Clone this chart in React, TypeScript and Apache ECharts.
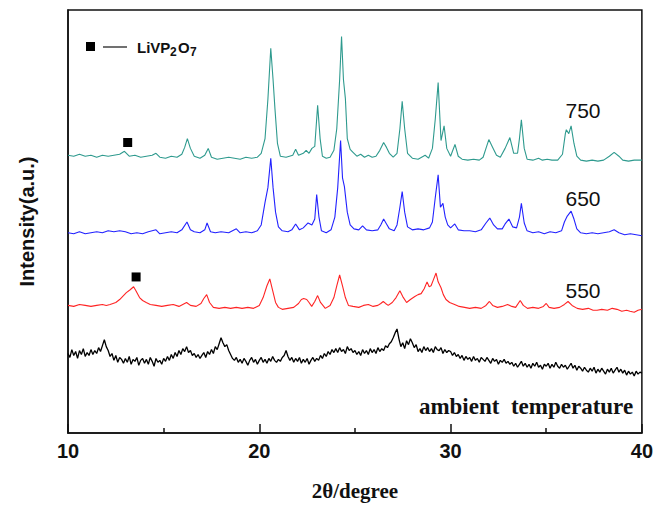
import React, { useEffect, useRef } from "react";
import * as echarts from "echarts";

// 2θ range and tick values
const xMin = 10;
const xMax = 40;
const xInterval = 10;

// Curve labels
const label750 = "750";
const label650 = "650";
const label550 = "550";
const labelAmbient = "ambient  temperature";

// Offset intensity (a.u.), [2θ, intensity]
const s750: [number, number][] = [
  [10.0, 283], [10.3, 282], [10.6, 284], [10.9, 282], [11.2, 283], [11.5, 281], [11.8, 283],
  [12.1, 282], [12.4, 283], [12.7, 284], [12.95, 287], [13.2, 282], [13.5, 283], [13.8, 281],
  [14.1, 282], [14.4, 283], [14.6, 285], [14.8, 281], [15.1, 280], [15.4, 282], [15.7, 281],
  [15.95, 284], [16.1, 291], [16.24, 300], [16.4, 290], [16.6, 282], [16.9, 280], [17.15, 283],
  [17.33, 290], [17.5, 281], [17.8, 279], [18.1, 280], [18.4, 281], [18.7, 280], [19.0, 279],
  [19.3, 281], [19.6, 280], [19.9, 281], [20.1, 285], [20.3, 300], [20.45, 340], [20.6, 392],
  [20.72, 360], [20.82, 330], [20.95, 295], [21.1, 282], [21.4, 281], [21.75, 283], [21.9, 289],
  [22.05, 283], [22.3, 285], [22.45, 288], [22.6, 285], [22.75, 290], [22.9, 292], [23.05, 334],
  [23.18, 300], [23.3, 282], [23.5, 280], [23.7, 281], [23.9, 288], [24.05, 310], [24.2, 360],
  [24.3, 404], [24.4, 360], [24.5, 341], [24.6, 300], [24.75, 289], [24.9, 286], [25.1, 282],
  [25.3, 284], [25.5, 281], [25.7, 283], [25.9, 281], [26.1, 282], [26.3, 288], [26.5, 296],
  [26.65, 291], [26.8, 285], [27.0, 281], [27.2, 285], [27.35, 310], [27.47, 338], [27.6, 310],
  [27.75, 285], [28.0, 280], [28.3, 279], [28.67, 283], [28.85, 280], [29.05, 290], [29.2, 320],
  [29.35, 357], [29.5, 298], [29.66, 313], [29.8, 290], [30.0, 282], [30.23, 294], [30.4, 282],
  [30.6, 279], [30.9, 278], [31.2, 279], [31.5, 278], [31.7, 281], [31.85, 290], [32.0, 299],
  [32.2, 291], [32.4, 283], [32.6, 281], [32.85, 290], [33.1, 301], [33.3, 285], [33.5, 285],
  [33.6, 300], [33.7, 319], [33.85, 290], [34.0, 279], [34.3, 278], [34.6, 280], [34.8, 278],
  [35.05, 279], [35.3, 278], [35.6, 278], [35.85, 284], [36.0, 305], [36.05, 309], [36.18, 305],
  [36.3, 313], [36.45, 295], [36.6, 282], [36.8, 278], [37.1, 277], [37.4, 278], [37.7, 277],
  [38.0, 278], [38.3, 282], [38.55, 286], [38.8, 282], [39.0, 278], [39.3, 277], [39.6, 278],
  [40.0, 278],
];

const s650: [number, number][] = [
  [10.0, 204], [10.3, 203], [10.6, 205], [10.9, 203], [11.2, 204], [11.5, 205], [11.8, 204],
  [12.1, 206], [12.4, 205], [12.7, 206], [13.0, 205], [13.3, 203], [13.6, 204], [13.9, 203],
  [14.2, 205], [14.6, 207], [14.8, 203], [15.1, 204], [15.4, 205], [15.7, 204], [15.95, 207],
  [16.22, 215], [16.4, 207], [16.6, 205], [16.9, 204], [17.15, 207], [17.27, 214], [17.45, 205],
  [17.7, 204], [18.0, 205], [18.4, 204], [18.8, 208], [19.0, 204], [19.3, 205], [19.6, 204],
  [19.9, 206], [20.1, 212], [20.3, 235], [20.45, 250], [20.6, 280], [20.72, 250], [20.85, 225],
  [21.0, 210], [21.2, 206], [21.5, 205], [21.7, 207], [21.9, 213], [22.1, 207], [22.3, 209],
  [22.55, 214], [22.75, 212], [22.9, 218], [23.0, 243], [23.12, 220], [23.25, 206], [23.5, 204],
  [23.75, 207], [23.95, 220], [24.1, 250], [24.25, 298], [24.35, 260], [24.45, 251], [24.6, 225],
  [24.75, 212], [24.95, 208], [25.2, 207], [25.4, 211], [25.6, 207], [25.9, 206], [26.2, 207],
  [26.35, 212], [26.5, 218], [26.65, 213], [26.8, 208], [27.05, 206], [27.2, 212], [27.35, 230],
  [27.47, 246], [27.6, 225], [27.75, 210], [28.0, 207], [28.3, 208], [28.6, 207], [28.9, 209],
  [29.05, 215], [29.2, 240], [29.35, 263], [29.47, 230], [29.6, 234], [29.72, 220], [29.85, 212],
  [30.0, 209], [30.22, 213], [30.4, 207], [30.7, 206], [31.0, 206], [31.3, 205], [31.6, 207],
  [31.85, 214], [32.05, 219], [32.25, 212], [32.45, 208], [32.7, 208], [32.85, 213], [33.05, 218],
  [33.25, 210], [33.45, 209], [33.6, 220], [33.7, 234], [33.85, 214], [34.0, 206], [34.3, 204],
  [34.6, 205], [34.9, 203], [35.2, 205], [35.5, 204], [35.8, 206], [35.95, 215], [36.1, 221],
  [36.3, 226], [36.45, 218], [36.6, 208], [36.8, 204], [37.1, 203], [37.4, 204], [37.7, 203],
  [38.0, 204], [38.3, 205], [38.55, 207], [38.8, 204], [39.1, 202], [39.4, 203], [39.7, 202],
  [40.0, 201],
];

const s550: [number, number][] = [
  [10.0, 130], [10.3, 129], [10.6, 131], [10.9, 130], [11.2, 129], [11.5, 130], [11.8, 131],
  [12.0, 130], [12.2, 131], [12.5, 133], [12.7, 136], [12.9, 140], [13.05, 143], [13.25, 146],
  [13.43, 149], [13.55, 145], [13.74, 138], [13.9, 135], [14.09, 133], [14.3, 131], [14.6, 130],
  [14.9, 129], [15.2, 130], [15.5, 131], [15.8, 129], [16.0, 131], [16.2, 133], [16.4, 130],
  [16.7, 129], [16.95, 132], [17.1, 137], [17.25, 141], [17.4, 133], [17.6, 128], [17.9, 127],
  [18.2, 128], [18.5, 127], [18.8, 128], [19.1, 127], [19.4, 128], [19.7, 127], [20.0, 130],
  [20.2, 138], [20.4, 150], [20.55, 157], [20.7, 145], [20.85, 133], [21.0, 128], [21.2, 126],
  [21.5, 127], [21.8, 128], [22.05, 132], [22.2, 136], [22.32, 137], [22.48, 136], [22.6, 133],
  [22.74, 129], [22.9, 134], [23.05, 140], [23.2, 133], [23.45, 127], [23.7, 130], [23.9, 138],
  [24.05, 150], [24.2, 161], [24.35, 150], [24.5, 138], [24.66, 130], [24.9, 129], [25.2, 128],
  [25.45, 130], [25.7, 131], [25.95, 129], [26.2, 130], [26.35, 132], [26.48, 134], [26.6, 132],
  [26.74, 130], [26.95, 133], [27.15, 138], [27.35, 145], [27.5, 139], [27.7, 133], [27.9, 136],
  [28.13, 139], [28.3, 141], [28.46, 142], [28.62, 147], [28.77, 154], [28.88, 149], [28.98, 150],
  [29.1, 156], [29.24, 163], [29.35, 154], [29.5, 148], [29.62, 141], [29.76, 136], [29.95, 133],
  [30.21, 131], [30.45, 129], [30.73, 128], [31.0, 127], [31.3, 128], [31.6, 127], [31.85, 130],
  [32.03, 134], [32.2, 130], [32.45, 128], [32.7, 129], [32.98, 131], [33.2, 129], [33.4, 128],
  [33.64, 135], [33.8, 130], [34.02, 127], [34.3, 128], [34.6, 127], [34.85, 129], [35.0, 132],
  [35.15, 128], [35.41, 127], [35.7, 128], [35.95, 131], [36.14, 134], [36.35, 130], [36.62, 127],
  [36.9, 126], [37.2, 127], [37.45, 125], [37.66, 125], [37.9, 126], [38.2, 125], [38.45, 127],
  [38.7, 126], [38.95, 124], [39.2, 125], [39.38, 124], [39.6, 123], [39.8, 125], [40.0, 126],
];

// Ambient sample, one reading every 0.1° from 10° to 40°
const ambientStart = 10;
const ambientStep = 0.1;
const ambientValues: number[] = [
  81, 77, 85, 79, 83, 76, 84, 80, 86, 78,
  82, 79, 85, 80, 84, 81, 87, 83, 89, 95,
  88, 84, 78, 81, 74, 79, 72, 77, 75, 71,
  76, 72, 78, 70, 75, 73, 77, 69, 74, 76,
  71, 75, 70, 77, 73, 68, 76, 72, 74, 70,
  76, 73, 78, 74, 80, 76, 82, 78, 84, 80,
  86, 83, 88, 82, 84, 79, 81, 77, 80, 76,
  79, 82, 77, 83, 80, 85, 81, 88, 85, 91,
  97, 92, 88, 90, 84, 80, 76, 74, 77, 72,
  75, 71, 76, 73, 69, 74, 77, 72, 75, 70,
  74, 77, 72, 75, 71, 76, 73, 78, 74, 72,
  75, 73, 77, 79, 84, 78, 74, 77, 72, 76,
  73, 77, 71, 75, 72, 76, 70, 74, 77, 73,
  76, 74, 79, 76, 81, 78, 83, 80, 85, 82,
  86, 82, 87, 83, 85, 81, 88, 84, 86, 82,
  84, 80, 83, 79, 85, 81, 84, 80, 86, 82,
  85, 81, 87, 83, 86, 84, 89, 87, 91, 93,
  97, 102, 106, 96, 88, 92, 86, 94, 90, 96,
  92, 87, 90, 83, 86, 82, 88, 84, 87, 83,
  86, 82, 88, 85, 84, 87, 81, 85, 82, 84,
  83, 79, 82, 78, 80, 76, 79, 74, 78, 75,
  77, 73, 78, 74, 76, 72, 77, 75, 73, 77,
  74, 71, 76, 73, 75, 70, 74, 72, 75, 71,
  73, 70, 72, 68, 71, 67, 70, 73, 68, 71,
  67, 70, 66, 71, 68, 72, 67, 69, 65, 70,
  68, 71, 66, 70, 67, 72, 68, 66, 70, 67,
  69, 65, 68, 71, 66, 69, 64, 68, 66, 63,
  67, 64, 62, 66, 63, 67, 61, 65, 62, 66,
  63, 60, 65, 62, 66, 61, 64, 67, 62, 65,
  61, 64, 59, 63, 60, 62, 58, 63, 60, 62,
  61,
];

// LiVP2O7 reflection markers [2θ, intensity]
const marker750: [number, number][] = [[13.12, 296]];
const marker550: [number, number][] = [[13.56, 159]];

const COLORS = { c750: "#2e9a8e", c650: "#2222ff", c550: "#ff2424", amb: "#000000" };

export default function App() {
  const ref = useRef<HTMLDivElement>(null);
  useEffect(() => {
    if (!ref.current) return;
    const chart = echarts.init(ref.current, null, { renderer: "svg" });
    const ambient = ambientValues.map((v, i) => [
      Math.round((ambientStart + i * ambientStep) * 100) / 100,
      v,
    ]);
    const axisColor = "#111";
    const mk = (pts: [number, number][]) => ({
      symbol: "rect",
      symbolSize: 9,
      itemStyle: { color: "#000" },
      label: { show: false },
      data: pts.map((p) => ({ coord: p })),
    });
    const sans = "'Liberation Sans', Arial, sans-serif";
    const serif = "'Liberation Serif', 'Times New Roman', serif";
    chart.setOption({
      animation: false,
      grid: {
        left: 68,
        right: 11,
        top: 10,
        bottom: 65,
        show: true,
        borderColor: axisColor,
        borderWidth: 1.5,
        backgroundColor: "transparent",
      },
      xAxis: {
        type: "value",
        min: xMin,
        max: xMax,
        interval: xInterval,
        axisLine: { show: true, lineStyle: { color: axisColor, width: 1.5 } },
        axisTick: { show: true, inside: true, length: 9, lineStyle: { color: axisColor, width: 1.5 } },
        minorTick: { show: true, splitNumber: 2, length: 5, lineStyle: { color: axisColor, width: 1.5 } },
        splitLine: { show: false },
        axisLabel: { margin: 8, fontSize: 20, fontWeight: "bold", fontFamily: sans, color: "#111" },
        name: "2θ/degree",
        nameLocation: "middle",
        nameGap: 47,
        nameTextStyle: { fontFamily: serif, fontWeight: "bold", fontSize: 21, color: "#111" },
      },
      yAxis: {
        type: "value",
        min: 0,
        max: 431,
        axisLine: { show: true, lineStyle: { color: axisColor, width: 1.5 } },
        axisTick: { show: false },
        axisLabel: { show: false },
        splitLine: { show: false },
        name: "Intensity(a.u.)",
        nameLocation: "middle",
        nameGap: 31,
        nameTextStyle: { fontFamily: sans, fontWeight: "bold", fontSize: 20, color: "#111" },
      },
      series: [
        {
          type: "line", data: s750, showSymbol: false, symbol: "none", silent: true,
          lineStyle: { color: COLORS.c750, width: 1.1 }, markPoint: mk(marker750),
        },
        {
          type: "line", data: s650, showSymbol: false, symbol: "none", silent: true,
          lineStyle: { color: COLORS.c650, width: 1.1 },
        },
        {
          type: "line", data: s550, showSymbol: false, symbol: "none", silent: true,
          lineStyle: { color: COLORS.c550, width: 1.1 }, markPoint: mk(marker550),
        },
        {
          type: "line", data: ambient, showSymbol: false, symbol: "none", silent: true,
          lineStyle: { color: COLORS.amb, width: 1.3 },
        },
      ],
      graphic: [
        { type: "text", x: 583, y: 110, style: { text: label750, fontSize: 21, fontFamily: sans, fill: "#111", textAlign: "center", textVerticalAlign: "middle" } },
        { type: "text", x: 583, y: 198, style: { text: label650, fontSize: 21, fontFamily: sans, fill: "#111", textAlign: "center", textVerticalAlign: "middle" } },
        { type: "text", x: 583, y: 290, style: { text: label550, fontSize: 21, fontFamily: sans, fill: "#111", textAlign: "center", textVerticalAlign: "middle" } },
        { type: "text", x: 526, y: 406, style: { text: labelAmbient, fontSize: 23, fontWeight: "bold", fontFamily: serif, fill: "#111", textAlign: "center", textVerticalAlign: "middle" } },
        { type: "rect", shape: { x: 86, y: 42, width: 9, height: 9 }, style: { fill: "#000" } },
        { type: "line", shape: { x1: 103, y1: 47, x2: 127, y2: 47 }, style: { stroke: "#111", lineWidth: 1.2 } },
        { type: "text", x: 137, y: 47, style: { text: "LiVP", fontSize: 15, fontWeight: "bold", fontFamily: sans, fill: "#111", textAlign: "left", textVerticalAlign: "middle" } },
        { type: "text", x: 170, y: 52, style: { text: "2", fontSize: 12, fontWeight: "bold", fontFamily: sans, fill: "#111", textAlign: "left", textVerticalAlign: "middle" } },
        { type: "text", x: 178, y: 47, style: { text: "O", fontSize: 15, fontWeight: "bold", fontFamily: sans, fill: "#111", textAlign: "left", textVerticalAlign: "middle" } },
        { type: "text", x: 190, y: 52, style: { text: "7", fontSize: 12, fontWeight: "bold", fontFamily: sans, fill: "#111", textAlign: "left", textVerticalAlign: "middle" } },
      ],
    });
    return () => chart.dispose();
  }, []);
  return (
    <div
      ref={ref}
      style={{ position: "fixed", left: 0, top: 0, width: 656, height: 506, background: "#fff" }}
    />
  );
}
